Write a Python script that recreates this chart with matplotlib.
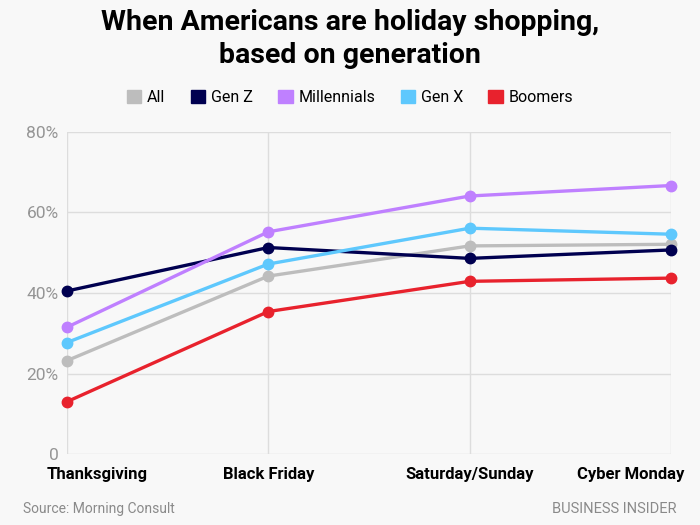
import numpy as np
import matplotlib
matplotlib.use('Agg')
import matplotlib.pyplot as plt
from matplotlib.patches import Patch
from matplotlib.transforms import ScaledTranslation

plt.rcParams['font.family'] = ['Roboto', 'DejaVu Sans']

# datos
dias = ['Thanksgiving', 'Black Friday', 'Saturday/Sunday', 'Cyber Monday']
grupos = ['All', 'Gen Z', 'Millennials', 'Gen X', 'Boomers']
colores = ['#bdbdbd', '#000050', '#bf80ff', '#5ec8fd', '#e8222d']
all_ = [23.2, 44.2, 51.7, 52.1]
genz = [40.5, 51.3, 48.6, 50.7]
mill = [31.5, 55.2, 64.1, 66.7]
genx = [27.7, 47.2, 56.1, 54.6]
boom = [13.0, 35.4, 42.9, 43.7]
series = [all_, genz, mill, genx, boom]
yticks = [0, 20, 40, 60, 80]
ylabels = ['0', '20%', '40%', '60%', '80%']

bg = '#f8f8f8'
fig = plt.figure(figsize=(7, 5.25), dpi=100, facecolor=bg)
ax = fig.add_axes([0.0957, 0.1352, 0.863, 0.6134], facecolor=bg)

x = np.arange(len(dias))
for s, c in zip(series, colores):
    ax.plot(x, s, color=c, lw=2.4, marker='o', ms=7.5, zorder=3, clip_on=False)

ax.set_xlim(0, 3)
ax.set_ylim(0, 80)
ax.set_yticks(yticks)
ax.set_yticklabels(ylabels, color='#959595', fontsize=12.5)
ax.set_xticks(x)
ax.set_xticklabels(dias, fontsize=12, fontweight='bold', color='black')
ax.tick_params(length=0, pad=6)
ax.tick_params(axis='x', pad=9)
for sp in ax.spines.values():
    sp.set_visible(False)
ax.grid(True, color='#dddddd', lw=1, zorder=0)
ax.set_axisbelow(True)

# primera y ultima etiqueta corridas hacia adentro
labs = ax.get_xticklabels()
labs[0].set_ha('left')
labs[0].set_transform(labs[0].get_transform() + ScaledTranslation(-20/100, 0, fig.dpi_scale_trans))
labs[-1].set_ha('right')
labs[-1].set_transform(labs[-1].get_transform() + ScaledTranslation(13/100, 0, fig.dpi_scale_trans))

fig.text(0.5, 0.982, 'When Americans are holiday shopping,\nbased on generation',
         ha='center', va='top', fontsize=20.5, fontweight='bold', linespacing=1.25)

handles = [Patch(color=c, label=g) for g, c in zip(grupos, colores)]
fig.legend(handles=handles, loc='center', bbox_to_anchor=(0.5, 0.815), ncol=5,
           frameon=False, fontsize=11.5, handlelength=0.9, handleheight=0.9,
           handletextpad=0.35, columnspacing=1.6)

fig.text(0.033, 0.03, 'Source: Morning Consult', fontsize=10, color='#8a8a8a', va='center')
fig.text(0.967, 0.03, 'BUSINESS INSIDER', fontsize=10.5, color='#8a8a8a', va='center', ha='right')

fig.savefig('out.png', dpi=100, facecolor=bg)
